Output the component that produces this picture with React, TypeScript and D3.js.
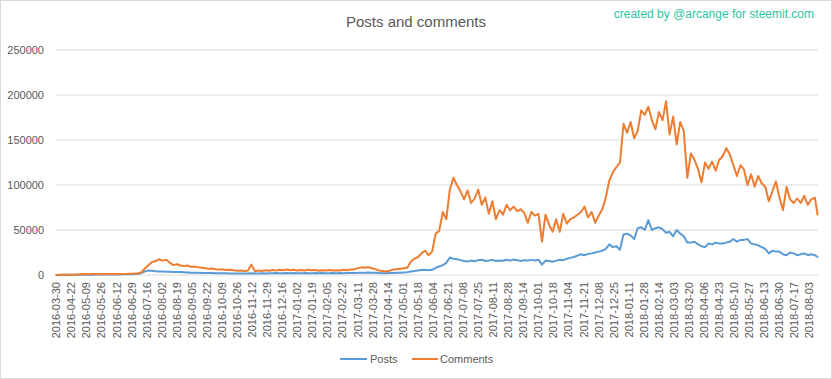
import React from "react";
import * as d3 from "d3";

// Tick labels shown on the category axis (every 17th category)
const tickLabels = [
  "2016-03-30","2016-04-22","2016-05-09","2016-05-26","2016-06-12","2016-06-29","2016-07-16","2016-08-02","2016-08-19","2016-09-05",
  "2016-09-22","2016-10-09","2016-10-26","2016-11-12","2016-11-29","2016-12-16","2017-01-02","2017-01-19","2017-02-05","2017-02-22",
  "2017-03-11","2017-03-28","2017-04-14","2017-05-01","2017-05-18","2017-06-04","2017-06-21","2017-07-08","2017-07-25","2017-08-11",
  "2017-08-28","2017-09-14","2017-10-01","2017-10-18","2017-11-04","2017-11-21","2017-12-08","2017-12-25","2018-01-11","2018-01-28",
  "2018-02-14","2018-03-03","2018-03-20","2018-04-06","2018-04-23","2018-05-10","2018-05-27","2018-06-13","2018-06-30","2018-07-17",
  "2018-08-03",
];

// Category axis: first day, then continuous days from 2016-04-06
const firstDay = "2016-03-30";
const runStart = "2016-04-06";
const categoryCount = 860;
const sampleStep = 4;

// Series values in thousands, one per sampled category (every 4th day)
const commentsK = [
  0.1,0.2,0.2,0.3,0.3,0.4,0.5,0.8,1.0,0.9,
  1.2,1.0,0.9,1.0,1.1,1.0,1.2,1.1,1.0,1.2,
  1.3,1.5,1.6,2.0,3.0,7.5,11.0,14.5,15.5,17.5,
  16.0,17.0,13.5,11.0,12.0,10.5,10.0,10.5,9.0,9.5,
  8.5,8.0,7.5,7.0,7.2,6.5,6.0,6.2,5.5,5.8,
  5.2,4.8,5.0,4.5,4.6,11.5,4.2,5.0,4.5,5.2,
  4.8,5.5,5.0,5.8,5.2,6.0,5.3,5.8,5.0,5.6,
  5.0,5.8,5.2,5.6,4.8,5.4,5.0,5.6,4.9,5.4,
  5.0,5.8,5.2,6.0,6.5,7.5,8.5,8.0,8.8,7.5,
  6.5,5.0,4.5,4.0,4.8,6.0,6.5,7.0,7.5,8.0,
  15,18,20,24,27,22,26,46,49,70,
  62,95,108,100,93,84,94,80,85,95,
  78,86,68,82,62,72,67,78,72,76,
  71,73,69,58,70,66,68,37,67,56,
  48,62,48,68,57,62,64,67,70,76,
  64,70,58,66,73,86,105,114,120,125,
  168,158,170,152,160,183,178,187,172,162,
  181,172,193,156,176,145,170,160,108,135,
  128,118,103,125,118,126,116,128,132,141,
  134,122,110,122,117,100,112,98,110,102,
  98,82,93,104,86,72,98,84,80,85,
  80,88,78,84,86,67,
];

const postsK = [
  0.1,0.1,0.2,0.2,0.2,0.3,0.3,0.3,0.4,0.4,
  0.4,0.5,0.5,0.5,0.5,0.6,0.6,0.6,0.6,0.7,
  0.7,0.8,1.0,1.3,2.2,4.0,5.0,4.6,4.2,4.0,
  3.8,3.6,3.5,3.3,3.3,3.2,3.0,2.8,2.6,2.5,
  2.4,2.3,2.2,2.2,2.1,2.0,2.0,1.9,1.9,1.8,
  1.8,1.8,1.7,1.7,1.7,1.9,1.7,1.8,1.9,1.8,
  2.0,1.9,2.1,1.9,2.0,2.2,2.0,2.1,1.9,2.0,
  2.1,1.9,2.0,2.2,2.0,2.1,1.9,2.0,2.1,2.0,
  2.1,2.0,2.2,2.1,2.3,2.4,2.6,2.5,2.7,2.5,
  2.4,2.2,2.0,1.9,2.1,2.3,2.5,2.6,2.8,3.0,
  4.0,4.5,5.0,5.5,5.8,5.2,5.8,8.0,9.5,11.0,
  13.5,19.5,18.0,17.5,16.5,15.5,15.0,16.0,15.2,16.5,
  17.0,15.5,16.0,16.8,15.5,16.2,15.8,17.0,16.0,17.2,
  16.5,15.5,16.5,16.0,16.8,16.2,17.0,11.5,16.0,15.5,
  14.8,16.0,17.0,16.5,18.0,19.0,20.0,21.5,23.0,22.0,
  23.5,24.0,25.0,26.0,27.0,29.0,34.0,31.0,32.0,28.0,
  45,46,44,40,52,53,50,61,50,52,
  53,51,47,48,43,50,46,43,36,36,
  37,34,32,31,35,34,36,35,35,36,
  37,40,37,39,39,40,35,34,33,31,
  29,24,27,26,26,23,22,25,24,22,
  23,24,22,23,22,20,
];

const yTicks = [0, 50000, 100000, 150000, 200000, 250000];

const seriesNames = ["Posts", "Comments"];
const seriesColors = ["#5B9BD5", "#ED7D31"];

const W = 832;
const H = 379;
const FONT = "'Liberation Sans', Arial, sans-serif";
const TEXT = "#595959";
const GRID = "#D9D9D9";

function buildCategories(): string[] {
  const fmt = d3.utcFormat("%Y-%m-%d");
  const start = new Date(runStart + "T00:00:00Z");
  const out = [firstDay];
  for (let i = 1; i < categoryCount; i++) {
    out.push(fmt(d3.utcDay.offset(start, i - 1)));
  }
  return out;
}

export default function App() {
  const categories = buildCategories();
  const x = d3.scaleBand<string>().domain(categories).range([56, 818]).padding(0);
  const bw = x.bandwidth();
  const cx = (c: string) => (x(c) as number) + bw / 2;
  const y = d3.scaleLinear().domain([0, 250000]).range([275, 50]);

  const sampleCat = (j: number) => categories[Math.min(j * sampleStep, categoryCount - 1)];
  const toPts = (arr: number[]) => arr.map((v, j) => ({ c: sampleCat(j), v: v * 1000 }));

  const line = d3
    .line<{ c: string; v: number }>()
    .x((d) => cx(d.c))
    .y((d) => y(d.v));

  const series = [toPts(postsK), toPts(commentsK)];

  return (
    <svg
      width={W}
      height={H}
      style={{ position: "absolute", left: 0, top: 0, background: "#fff" }}
      fontFamily={FONT}
    >
      <rect x={0.5} y={0.5} width={W - 1} height={H - 1} fill="#fff" stroke={GRID} />
      <text x={416} y={27} textAnchor="middle" fontSize={15} fill={TEXT}>
        Posts and comments
      </text>
      <text x={814} y={18} textAnchor="end" fontSize={12} fill="#2CC5A3">
        created by @arcange for steemit.com
      </text>

      {yTicks.map((t) => (
        <g key={t}>
          <line x1={56} x2={818} y1={y(t)} y2={y(t)} stroke={GRID} strokeWidth={1} />
          <text x={44} y={y(t)} dy="0.35em" textAnchor="end" fontSize={11} fill={TEXT}>
            {t}
          </text>
        </g>
      ))}

      {tickLabels.map((lab) => (
        <text
          key={lab}
          transform={`translate(${cx(lab)},282) rotate(-90)`}
          dy="0.35em"
          textAnchor="end"
          fontSize={11}
          fill={TEXT}
        >
          {lab}
        </text>
      ))}

      {series.map((pts, k) => (
        <path
          key={k}
          d={line(pts) || ""}
          fill="none"
          stroke={seriesColors[k]}
          strokeWidth={2}
          strokeLinejoin="round"
          strokeLinecap="round"
        />
      ))}

      <g>
        <line x1={340} x2={367} y1={359} y2={359} stroke={seriesColors[0]} strokeWidth={2} />
        <text x={370} y={359} dy="0.35em" fontSize={11} fill={TEXT}>{seriesNames[0]}</text>
        <line x1={412} x2={438} y1={359} y2={359} stroke={seriesColors[1]} strokeWidth={2} />
        <text x={440} y={359} dy="0.35em" fontSize={11} fill={TEXT}>{seriesNames[1]}</text>
      </g>
    </svg>
  );
}
